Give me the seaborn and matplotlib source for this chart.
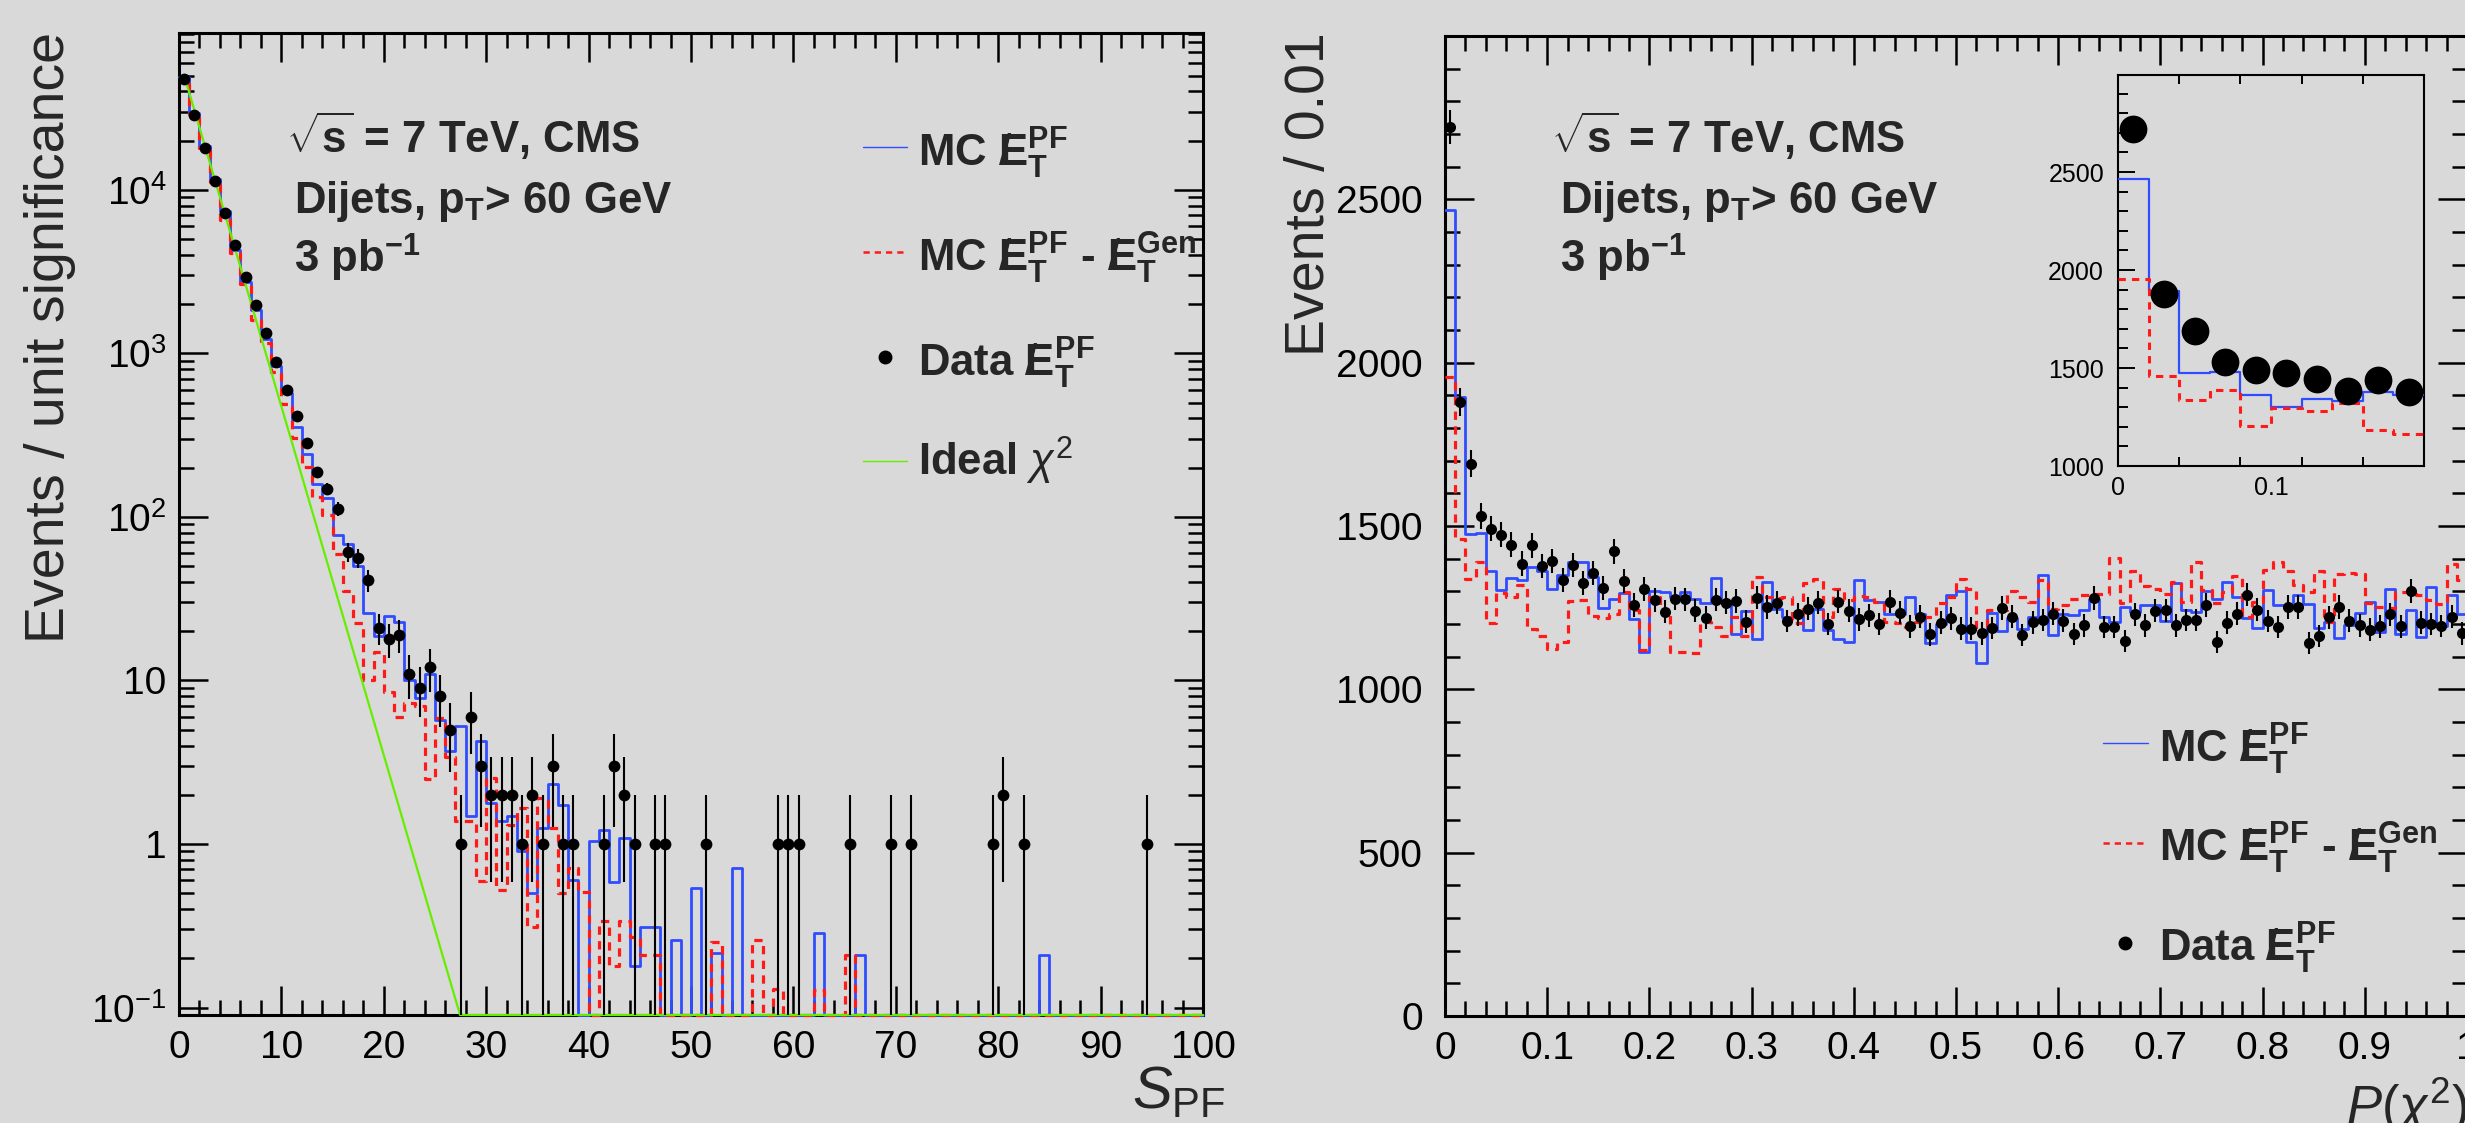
import numpy as np
import matplotlib
matplotlib.use("Agg")
import matplotlib.pyplot as plt
import matplotlib.ticker as mticker
from matplotlib.lines import Line2D
import seaborn as sns

# ---------------------------------------------------------------
# Significance S_PF, bins of width 1 from 0 to 100
# ---------------------------------------------------------------
sig_data = [47700, 28800, 17900, 11400, 7210, 4580, 2930, 1990, 1340, 887,
            601, 412, 282, 188, 149, 112, 61, 56, 41, 21,
            18, 19, 11, 9, 12, 8, 5, 1, 6, 3,
            2, 2, 2, 1, 2, 1, 3, 1, 1, 0,
            0, 1, 3, 2, 1, 0, 1, 1, 0, 0,
            0, 1, 0, 0, 0, 0, 0, 0, 1, 1,
            1, 0, 0, 0, 0, 1, 0, 0, 0, 1,
            0, 1, 0, 0, 0, 0, 0, 0, 0, 1,
            2, 0, 1, 0, 0, 0, 0, 0, 0, 0,
            0, 0, 0, 0, 1, 0, 0, 0, 0, 0]

sig_mc = [49000, 29700, 18500, 11600, 7450, 4300, 2750, 1830, 1220, 838,
          571, 356, 244, 158, 131, 78, 68, 50, 25.8, 18.7,
          24.9, 22.9, 10.0, 7.8, 10.9, 5.7, 3.7, 5.3, 1.48, 4.25,
          1.78, 1.39, 1.48, 0.90, 0.50, 1.26, 2.33, 1.72, 0.60, 0,
          1.05, 1.21, 0.585, 1.09, 0.18, 0.31, 0.31, 0, 0.26, 0,
          0.54, 0, 0.215, 0, 0.71, 0, 0, 0, 0, 0,
          0, 0, 0.285, 0, 0, 0, 0.21, 0, 0, 0,
          0, 0, 0, 0, 0, 0, 0, 0, 0, 0,
          0, 0, 0, 0, 0.21, 0, 0, 0, 0, 0,
          0, 0, 0, 0, 0, 0, 0, 0, 0, 0]

sig_mc_gen = [48000, 29000, 17900, 11200, 6560, 4090, 2670, 1590, 1160, 773,
              489, 305, 202, 133, 103, 59, 35, 22.5, 10, 15,
              8.5, 6, 7.3, 7, 2.5, 5.9, 3.4, 1.38, 1.39, 0.59,
              2.54, 0.52, 1.31, 1.66, 0.31, 1.9, 1.25, 0.5, 0.71, 0.51,
              0, 0.34, 0.18, 0.34, 0.27, 0.21, 0.21, 0, 0, 0,
              0, 0, 0.25, 0, 0, 0, 0.26, 0, 0.13, 0,
              0, 0, 0.128, 0, 0, 0.21, 0, 0, 0, 0,
              0, 0, 0, 0, 0, 0, 0, 0, 0, 0,
              0, 0, 0, 0, 0, 0, 0, 0, 0, 0,
              0, 0, 0, 0, 0, 0, 0, 0, 0, 0]

# ideal chi2 (2 d.o.f.) expectation, straight on the log scale down to the floor
chi2_ideal_x = [0.55, 27.45, 100.0]
chi2_ideal_y = [4.9e4, 0.09, 0.09]

sig_ticklabels = [r"$10^{-1}$", "1", "10", r"$10^{2}$", r"$10^{3}$", r"$10^{4}$"]

# ---------------------------------------------------------------
# P(chi2), bins of width 0.01 from 0 to 1
# ---------------------------------------------------------------
prob_data = [2722, 1880, 1691, 1530, 1492, 1473, 1443, 1385, 1441, 1377,
             1392, 1334, 1380, 1326, 1356, 1311, 1422, 1331, 1258, 1308,
             1273, 1237, 1278, 1276, 1240, 1219, 1275, 1265, 1270, 1207,
             1281, 1252, 1265, 1209, 1230, 1247, 1265, 1200, 1268, 1240,
             1214, 1227, 1200, 1268, 1235, 1193, 1222, 1168, 1204, 1217,
             1186, 1186, 1171, 1188, 1249, 1222, 1166, 1205, 1212, 1232,
             1210, 1169, 1196, 1280, 1191, 1191, 1149, 1230, 1196, 1240,
             1242, 1196, 1212, 1212, 1258, 1144, 1204, 1232, 1290, 1244,
             1209, 1191, 1252, 1252, 1141, 1163, 1220, 1252, 1210, 1196,
             1183, 1193, 1230, 1193, 1301, 1204, 1200, 1194, 1222, 1171]

prob_mc = [2466, 1894, 1476, 1479, 1363, 1303, 1342, 1334, 1376, 1363,
           1306, 1350, 1390, 1390, 1344, 1250, 1278, 1295, 1215, 1115,
           1301, 1298, 1283, 1298, 1278, 1265, 1342, 1263, 1168, 1240,
           1153, 1329, 1247, 1222, 1230, 1181, 1247, 1183, 1153, 1146,
           1334, 1275, 1268, 1232, 1232, 1283, 1232, 1143, 1200, 1288,
           1301, 1146, 1081, 1234, 1179, 1217, 1186, 1222, 1351, 1166,
           1230, 1227, 1242, 1278, 1222, 1207, 1252, 1237, 1258, 1258,
           1210, 1324, 1242, 1237, 1301, 1278, 1329, 1283, 1217, 1189,
           1303, 1258, 1258, 1288, 1260, 1189, 1207, 1156, 1196, 1234,
           1268, 1176, 1308, 1169, 1242, 1159, 1313, 1193, 1288, 1232]

prob_mc_gen = [1955, 1461, 1339, 1390, 1204, 1295, 1283, 1320, 1184, 1164,
               1125, 1145, 1270, 1273, 1224, 1217, 1232, 1298, 1242, 1120,
               1283, 1242, 1115, 1115, 1112, 1207, 1191, 1164, 1222, 1164,
               1344, 1283, 1281, 1283, 1202, 1324, 1339, 1222, 1308, 1273,
               1285, 1283, 1266, 1207, 1202, 1191, 1207, 1222, 1263, 1283,
               1339, 1308, 1171, 1242, 1242, 1301, 1283, 1268, 1334, 1247,
               1258, 1278, 1288, 1291, 1291, 1403, 1263, 1362, 1316, 1308,
               1291, 1329, 1268, 1390, 1303, 1263, 1298, 1346, 1222, 1268,
               1366, 1390, 1362, 1319, 1298, 1362, 1207, 1354, 1356, 1354,
               1263, 1252, 1249, 1298, 1298, 1288, 1273, 1260, 1385, 1334]

# zoomed view of the first ten bins
n_zoom = 10

# ---------------------------------------------------------------
# style
# ---------------------------------------------------------------
BG = "#d9d9d9"
BLUE = "#2f4dff"
RED = "#ff1a1a"
GREEN = "#66ee00"

sns.set_theme(style="ticks", rc={"axes.facecolor": BG, "figure.facecolor": BG,
                                 "savefig.facecolor": BG})
plt.rcParams["font.family"] = ["Liberation Sans", "DejaVu Sans"]
plt.rcParams["mathtext.fontset"] = "custom"
plt.rcParams["mathtext.rm"] = "Liberation Sans"
plt.rcParams["mathtext.sf"] = "Liberation Sans"
plt.rcParams["mathtext.it"] = "Liberation Sans:italic"
plt.rcParams["mathtext.bf"] = "Liberation Sans:bold"
plt.rcParams["axes.edgecolor"] = "black"
plt.rcParams["axes.linewidth"] = 2.2
plt.rcParams["xtick.color"] = "black"
plt.rcParams["ytick.color"] = "black"

W, H, DPI = 2465, 1123, 100
fig = plt.figure(figsize=(W / DPI, H / DPI), dpi=DPI)


def fx(px):
    return px / W


def fy(py):
    return 1 - py / H


axL = fig.add_axes([fx(179), fy(1015), fx(1203) - fx(179), fy(33) - fy(1015)])
axR = fig.add_axes([fx(1445), fy(1016), fx(2467) - fx(1445), fy(36) - fy(1016)])
axI = fig.add_axes([fx(2118), fy(466), fx(2424) - fx(2118), fy(75) - fy(466)])


def step_hist(ax, edges, values, color, lw, dashes=None, floor=None, zorder=2):
    v = np.asarray(values, dtype=float)
    if floor is not None:
        v = np.maximum(v, floor)
    y = np.append(v, v[-1])
    sns.lineplot(x=edges, y=y, ax=ax, drawstyle="steps-post", estimator=None,
                 sort=False, color=color, linewidth=lw, legend=False, zorder=zorder)
    line = ax.lines[-1]
    if dashes is not None:
        line.set_dashes(dashes)
    line.set_clip_on(floor is None)
    return line


def data_points(ax, centers, counts, size, floor=None, ew=1.5):
    c = np.asarray(centers, dtype=float)
    n = np.asarray(counts, dtype=float)
    keep = n > 0
    c, n = c[keep], n[keep]
    err = np.sqrt(n)
    lo = err.copy()
    if floor is not None:
        lo = np.where(n - err > 0, err, n - 0.5 * floor)
    ax.errorbar(c, n, yerr=[lo, err], fmt="none", ecolor="black",
                elinewidth=ew, capsize=0, zorder=5)
    sns.scatterplot(x=c, y=n, ax=ax, color="black", s=size, linewidth=0,
                    legend=False, zorder=6)


# ---------------------------------------------------------------
# left: significance distribution
# ---------------------------------------------------------------
SIG_MIN, SIG_MAX = 0.09, 9.1e4
sig_edges = np.arange(len(sig_data) + 1) * 1.0
sig_centers = sig_edges[:-1] + 0.5
axL.set_yscale("log")
step_hist(axL, sig_edges, sig_mc, BLUE, 2.0, floor=SIG_MIN, zorder=3)
step_hist(axL, sig_edges, sig_mc_gen, RED, 2.3, dashes=(2.6, 2.0), floor=SIG_MIN, zorder=3.2)
sns.lineplot(x=chi2_ideal_x, y=chi2_ideal_y, ax=axL, color=GREEN, linewidth=1.6,
             estimator=None, sort=False, legend=False, zorder=3.5)
axL.lines[-1].set_clip_on(False)
data_points(axL, sig_centers, sig_data, 72, floor=SIG_MIN)

axL.set_xlim(0, 100)
axL.set_ylim(SIG_MIN, SIG_MAX)
axL.xaxis.set_major_locator(mticker.MultipleLocator(10))
axL.xaxis.set_minor_locator(mticker.MultipleLocator(2))
axL.xaxis.set_major_formatter(mticker.FuncFormatter(lambda v, p: f"{v:.0f}"))
axL.yaxis.set_major_locator(mticker.FixedLocator([0.1, 1, 10, 100, 1000, 10000]))
axL.yaxis.set_major_formatter(mticker.FixedFormatter(sig_ticklabels))
axL.yaxis.set_minor_locator(mticker.LogLocator(base=10, subs=np.arange(2, 10), numticks=30))
axL.yaxis.set_minor_formatter(mticker.NullFormatter())

# ---------------------------------------------------------------
# right: P(chi2) distribution
# ---------------------------------------------------------------
prob_edges = np.arange(len(prob_data) + 1) * 0.01
prob_centers = prob_edges[:-1] + 0.005
step_hist(axR, prob_edges, prob_mc, BLUE, 2.0, zorder=3)
step_hist(axR, prob_edges, prob_mc_gen, RED, 2.3, dashes=(2.6, 2.0), zorder=3.2)
data_points(axR, prob_centers, prob_data, 64)

axR.set_xlim(0, 1)
axR.set_ylim(0, 3000)
axR.xaxis.set_major_locator(mticker.MultipleLocator(0.1))
axR.xaxis.set_minor_locator(mticker.MultipleLocator(0.02))
axR.xaxis.set_major_formatter(mticker.FuncFormatter(
    lambda v, p: "0" if abs(v) < 1e-9 else ("1" if abs(v - 1) < 1e-9 else f"{v:.1f}")))
axR.yaxis.set_major_locator(mticker.FixedLocator([0, 500, 1000, 1500, 2000, 2500]))
axR.yaxis.set_minor_locator(mticker.MultipleLocator(100))
axR.yaxis.set_major_formatter(mticker.FuncFormatter(lambda v, p: f"{v:.0f}"))

for ax in (axL, axR):
    ax.tick_params(which="both", direction="in", top=True, right=True,
                   width=1.8, labelsize=28, colors="black")
    ax.tick_params(which="major", length=21)
    ax.tick_params(which="minor", length=10.5)
    ax.tick_params(axis="x", which="both", pad=11)
    ax.set_xlabel("")
    ax.set_ylabel("")
    for s in ax.spines.values():
        s.set_linewidth(2.2)
        s.set_color("black")
axL.tick_params(axis="y", which="both", pad=9)
axR.tick_params(axis="y", which="both", pad=16)

# ---------------------------------------------------------------
# inset: first ten bins of P(chi2)
# ---------------------------------------------------------------
zoom_edges = np.arange(n_zoom + 1) * 0.02
zoom_centers = zoom_edges[:-1] + 0.01
step_hist(axI, zoom_edges, prob_mc[:n_zoom], BLUE, 1.6, zorder=3)
step_hist(axI, zoom_edges, prob_mc_gen[:n_zoom], RED, 2.2, dashes=(2.4, 2.0), zorder=3.2)
data_points(axI, zoom_centers, prob_data[:n_zoom], 400)
axI.set_xlim(0, 0.2)
axI.set_ylim(1000, 2995)
axI.xaxis.set_major_locator(mticker.FixedLocator([0, 0.1]))
axI.xaxis.set_major_formatter(mticker.FixedFormatter(["0", "0.1"]))
axI.xaxis.set_minor_locator(mticker.FixedLocator([0.04, 0.08, 0.12, 0.16]))
axI.yaxis.set_major_locator(mticker.MultipleLocator(500))
axI.yaxis.set_minor_locator(mticker.MultipleLocator(100))
axI.yaxis.set_major_formatter(mticker.FuncFormatter(lambda v, p: f"{v:.0f}"))
axI.tick_params(which="both", direction="in", top=True, right=False,
                width=1.4, labelsize=18, colors="black")
axI.tick_params(axis="x", which="major", length=0, pad=7)
axI.tick_params(axis="x", which="minor", length=6.5)
axI.tick_params(axis="y", which="major", length=12, pad=10)
axI.tick_params(axis="y", which="minor", length=7.5)
axI.set_xlabel("")
axI.set_ylabel("")
for s in axI.spines.values():
    s.set_linewidth(1.5)
    s.set_color("black")

# ---------------------------------------------------------------
# axis titles
# ---------------------------------------------------------------
fig.text(fx(50), fy(32), "Events / unit significance", rotation=90,
         ha="center", va="top", fontsize=40)
fig.text(fx(1310), fy(32), "Events / 0.01", rotation=90,
         ha="center", va="top", fontsize=40)
fig.text(fx(1132), fy(1109), r"$S_{\mathrm{PF}}$", ha="left", va="baseline", fontsize=43)
fig.text(fx(2346), fy(1124), r"$P(\chi^{2})$", ha="left", va="baseline", fontsize=38)

# ---------------------------------------------------------------
# labels and legends
# ---------------------------------------------------------------
TXT = 31.5
info = [r"$\sqrt{\mathbf{s}}$ = 7 TeV, CMS",
        r"Dijets, $\mathbf{p}_{\mathbf{T}}$> 60 GeV",
        r"3 $\mathbf{pb}^{\mathbf{-1}}$"]
for x0, x1 in ((286, 294), (1551, 1560)):
    fig.text(fx(x0), fy(153), info[0], fontsize=TXT, fontweight="bold", va="baseline")
    fig.text(fx(x1), fy(213), info[1], fontsize=TXT, fontweight="bold", va="baseline")
    fig.text(fx(x1), fy(273), info[2], fontsize=TXT, fontweight="bold", va="baseline")

# slashed E for missing transverse energy: a slash laid over the left half of the E
MET = r"/\!\!\mathbf{E}"
lab_mc = r"MC $" + MET + r"_{\mathbf{T}}^{\mathbf{PF}}$"
lab_gen = (r"MC $" + MET + r"_{\mathbf{T}}^{\mathbf{PF}}$ - $" + MET
           + r"_{\mathbf{T}}^{\mathbf{Gen}}$")
lab_data = r"Data $" + MET + r"_{\mathbf{T}}^{\mathbf{PF}}$"
lab_chi2 = r"Ideal $\chi^{2}$"


def key_line(x0, x1, y, **kw):
    fig.add_artist(Line2D([fx(x0), fx(x1)], [fy(y), fy(y)], transform=fig.transFigure, **kw))


def key_dot(x, y):
    fig.add_artist(Line2D([fx(x)], [fy(y)], transform=fig.transFigure, marker="o",
                          markersize=9, color="black", linestyle="none"))


def key_text(x, y, s):
    fig.text(fx(x), fy(y), s, fontsize=TXT, fontweight="bold", va="baseline")


# left legend
key_line(863, 907, 147, color=BLUE, linewidth=1.0)
key_text(918, 167, lab_mc)
key_line(863, 907, 252, color=RED, linewidth=1.8, dashes=(2.5, 2.0))
key_text(918, 272, lab_gen)
key_dot(885, 357)
key_text(918, 377, lab_data)
key_line(863, 907, 461, color=GREEN, linewidth=1.0)
key_text(918, 476, lab_chi2)

# right legend
key_line(2103, 2148, 743, color=BLUE, linewidth=1.0)
key_text(2159, 763, lab_mc)
key_line(2103, 2148, 843, color=RED, linewidth=1.8, dashes=(2.5, 2.0))
key_text(2159, 862, lab_gen)
key_dot(2125, 943)
key_text(2159, 962, lab_data)

fig.savefig("out.png", dpi=DPI, facecolor=BG)
